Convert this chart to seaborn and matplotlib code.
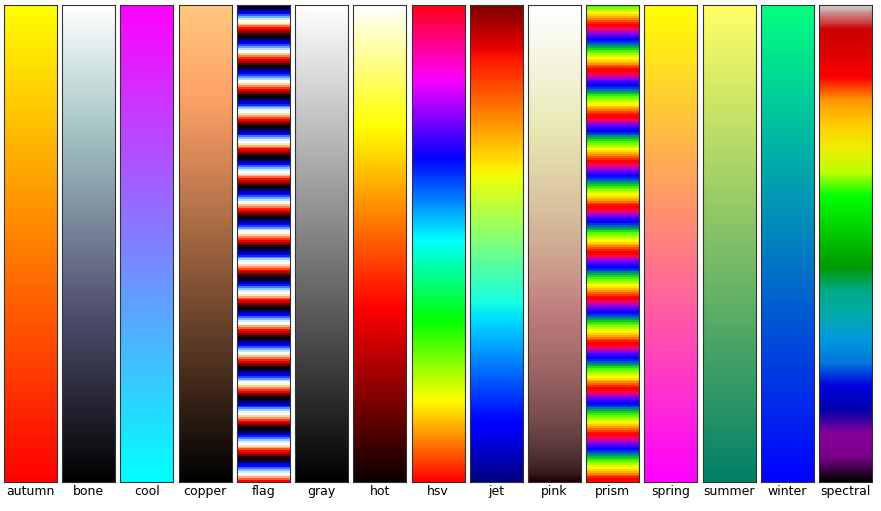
import numpy as np
import matplotlib
matplotlib.use("Agg")
import matplotlib.pyplot as plt
import seaborn as sns

cmap_names = ["autumn", "bone", "cool", "copper", "flag", "gray", "hot", "hsv",
              "jet", "pink", "prism", "spring", "summer", "winter", "nipy_spectral"]
labels = ["autumn", "bone", "cool", "copper", "flag", "gray", "hot", "hsv",
          "jet", "pink", "prism", "spring", "summer", "winter", "spectral"]
gradient = np.linspace(1, 0, 256)

fig = plt.figure(figsize=(8.81, 5.11), dpi=100)
W, H = 881, 511
left, top, bottom = 4, 5, 482
width = 53.0
step = (872 - 4 - width) / 14.0

for i, (cm, lab) in enumerate(zip(cmap_names, labels)):
    x0 = left + i * step
    ax = fig.add_axes([x0 / W, 1 - bottom / H, width / W, (bottom - top) / H])
    sns.heatmap(gradient.reshape(-1, 1), cmap=cm, vmin=0, vmax=1, cbar=False,
                ax=ax, xticklabels=False, yticklabels=False, rasterized=True)
    ax.set_xticks([]); ax.set_yticks([])
    for s in ax.spines.values():
        s.set_visible(True)
        s.set_linewidth(0.8)
        s.set_edgecolor("#333333")
    fig.text((x0 + width / 2) / W, 1 - 485 / H, lab, ha="center", va="top",
             fontsize=9, family="DejaVu Sans")

fig.savefig("out.png", dpi=100)
